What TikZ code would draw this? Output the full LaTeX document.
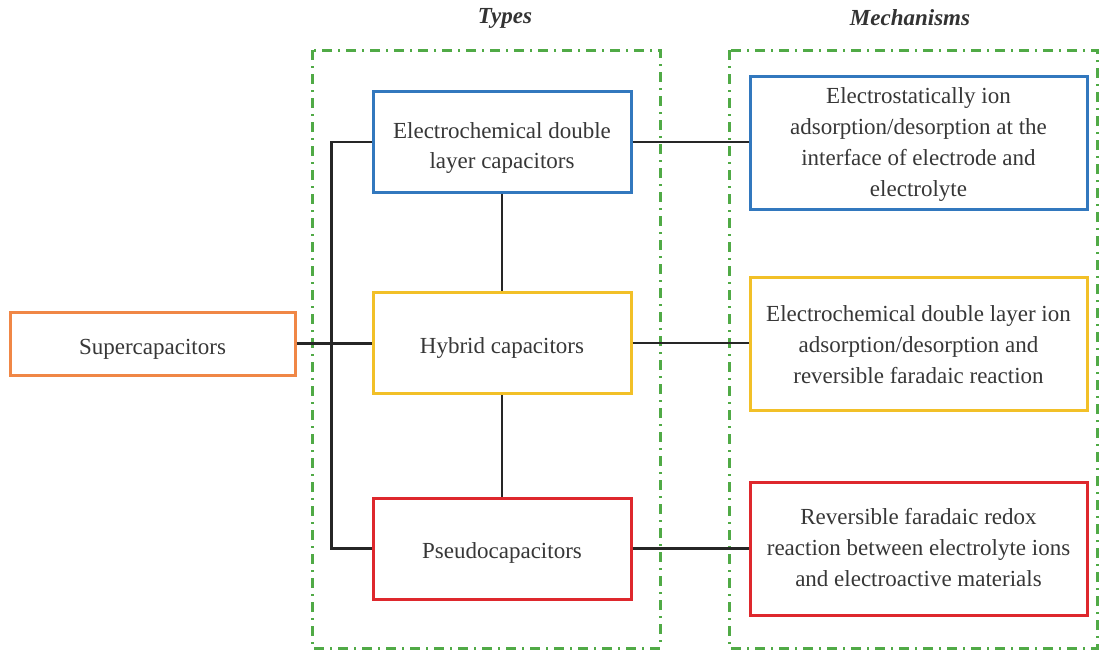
\documentclass[tikz,border=0pt]{standalone}
\usepackage{fontspec}
\setmainfont{Liberation Serif}
\definecolor{grn}{RGB}{80,170,70}
\definecolor{bblue}{RGB}{50,120,190}
\definecolor{byel}{RGB}{242,192,40}
\definecolor{bred}{RGB}{222,40,45}
\definecolor{borg}{RGB}{240,135,70}
\definecolor{txt}{RGB}{55,55,55}
\newcommand{\lowtext}[2]{\raisebox{-#1}[\height][\depth]{\begin{tabular}{@{}c@{}}#2\end{tabular}}}
\begin{document}
\begin{tikzpicture}[x=1pt,y=-1pt,
  box/.style={draw, line width=3pt, fill=white, text=txt,
    font=\fontsize{23}{30}\selectfont, inner sep=0pt},
  typebox/.style={box, minimum width=258pt, minimum height=101pt},
  mechbox/.style={box, minimum width=337pt, minimum height=133pt, font=\fontsize{23}{31}\selectfont},
  group/.style={draw=grn, line width=3pt, dash pattern=on 10pt off 6pt on 2pt off 6pt},
  conn/.style={draw=black!85, line width=2.5pt},
  head/.style={font=\fontsize{23}{26}\selectfont\bfseries\itshape, text=black!80}]
\useasboundingbox (0,0) rectangle (1099,653);
\draw[group] (312,50) rectangle (660,648);
\draw[group] (729,50) rectangle (1097,648);
\node[head] (types) at (505,18) {Types};
\node[head] (mech) at (910,18) {Mechanisms};
\node[box, draw=borg, minimum width=285pt, minimum height=63pt] (sup) at (152.5,343.5) {\lowtext{5pt}{Supercapacitors}};
\node[typebox, draw=bblue] (edlc) at (502,142) {\lowtext{5pt}{Electrochemical double\\layer capacitors}};
\node[typebox, draw=byel] (hyb) at (502,343) {\lowtext{4pt}{Hybrid capacitors}};
\node[typebox, draw=bred] (pse) at (502,548.5) {\lowtext{4pt}{Pseudocapacitors}};
\node[mechbox, draw=bblue] (m1) at (918.5,142.5) {\lowtext{1pt}{Electrostatically ion\\adsorption/desorption at the\\interface of electrode and\\electrolyte}};
\node[mechbox, draw=byel] (m2) at (918.5,344) {\lowtext{2pt}{Electrochemical double layer ion\\adsorption/desorption and\\reversible faradaic reaction}};
\node[mechbox, draw=bred] (m3) at (918.5,548.5) {\lowtext{1pt}{Reversible faradaic redox\\reaction between electrolyte ions\\and electroactive materials}};
\draw[conn] (edlc.west) -- ++(-40,0) coordinate (bus) |- (pse.west);
\draw[conn] (sup.east) -- (sup.east -| hyb.west);
\draw[conn] (edlc.south) -- (hyb.north);
\draw[conn] (hyb.south) -- (pse.north);
\draw[conn] (edlc.east) -- (edlc.east -| m1.west);
\draw[conn] (hyb.east) -- (hyb.east -| m2.west);
\draw[conn] (pse.east) -- (pse.east -| m3.west);
\end{tikzpicture}
\end{document}
